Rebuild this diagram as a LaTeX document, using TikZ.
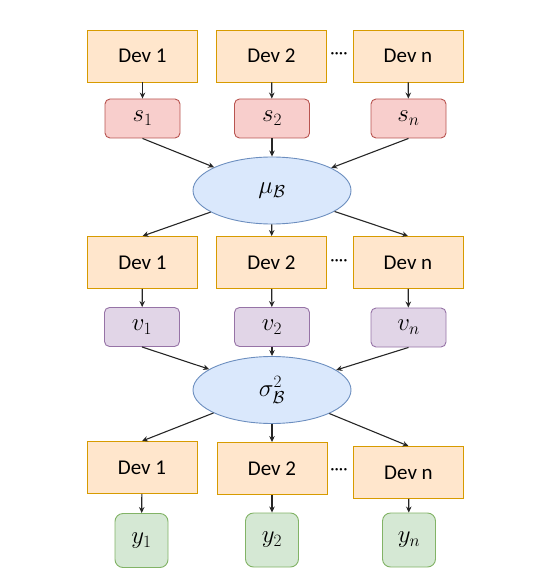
\documentclass[tikz,border=0pt]{standalone}
\usepackage{amsmath,amssymb}
\usepackage{fontspec}
\setmainfont{Carlito}
\usetikzlibrary{arrows.meta,positioning,shapes.geometric}
\definecolor{clDevFill}{HTML}{FFE6CC}
\definecolor{clDevLine}{HTML}{D79B00}
\definecolor{clSumFill}{HTML}{F8CECC}
\definecolor{clSumLine}{HTML}{B85450}
\definecolor{clVarFill}{HTML}{E1D5E7}
\definecolor{clVarLine}{HTML}{9673A6}
\definecolor{clOutFill}{HTML}{D5E8D4}
\definecolor{clOutLine}{HTML}{82B366}
\definecolor{clStatFill}{HTML}{DAE8FC}
\definecolor{clStatLine}{HTML}{6C8EBF}
\tikzset{
  box/.style={rectangle, draw, line width=0.9pt, align=center, inner sep=0pt,
              font=\fontsize{21}{25}\selectfont},
  dev/.style={box, draw=clDevLine, fill=clDevFill, minimum width=110pt, minimum height=52pt},
  part/.style={box, rounded corners=5pt, minimum width=75pt, minimum height=39pt,
               font=\fontsize{25}{29}\selectfont},
  sumbox/.style={part, draw=clSumLine, fill=clSumFill},
  varbox/.style={part, draw=clVarLine, fill=clVarFill},
  outbox/.style={part, draw=clOutLine, fill=clOutFill, rounded corners=8pt,
                 minimum width=53pt, minimum height=54pt},
  stat/.style={ellipse, draw=clStatLine, fill=clStatFill, line width=0.9pt,
               minimum width=158pt, minimum height=67pt, inner sep=0pt,
               font=\fontsize{25}{29}\selectfont},
  dots/.style={font=\fontsize{17}{20}\selectfont, inner sep=0pt},
  flow/.style={-{Stealth[length=6pt,width=5.5pt]}, line width=1.1pt, draw=black!85},
}

\begin{document}
\begin{tikzpicture}[x=1pt,y=-1pt]
  \useasboundingbox (0,0) rectangle (547,588);
  % first pass: mean
  \node[dev] (d11) at (142.5,56) {Dev 1};
  \node[dev] (d12) at (271.5,56) {Dev 2};
  \node[dev] (d1n) at (408,56) {Dev n};
  \node[dots] (dots1) at (339,56) {····};
  \node[sumbox] (s1) at (142.5,118.5) {$s_1$};
  \node[sumbox] (s2) at (272,118.5) {$s_2$};
  \node[sumbox] (sn) at (408.5,118.5) {$s_n$};
  \node[stat] (mu) at (272,190.5) {$\mu_{\mathcal{B}}$};
  \draw[flow] (d11)--(s1); \draw[flow] (d12)--(s2); \draw[flow] (d1n)--(sn);
  \draw[flow] (s1.south)--(mu); \draw[flow] (s2)--(mu); \draw[flow] (sn.south)--(mu);
  % second pass: variance
  \node[dev] (d21) at (142.5,262.5) {Dev 1};
  \node[dev] (d22) at (271.5,262.5) {Dev 2};
  \node[dev] (d2n) at (408,262.5) {Dev n};
  \node[dots] (dots2) at (339,263) {····};
  \draw[flow] (mu)--(d21.north); \draw[flow] (mu)--(d22); \draw[flow] (mu)--(d2n.north);
  \node[varbox] (v1) at (142,327) {$v_1$};
  \node[varbox] (v2) at (272,327) {$v_2$};
  \node[varbox] (vn) at (408.5,327.5) {$v_n$};
  \node[stat] (sigma) at (272,390) {$\sigma_{\mathcal{B}}^2$};
  \draw[flow] (d21)--(v1); \draw[flow] (d22)--(v2); \draw[flow] (d2n)--(vn);
  \draw[flow] (v1.south)--(sigma); \draw[flow] (v2)--(sigma); \draw[flow] (vn.south)--(sigma);
  % normalised outputs
  \node[dev] (d31) at (142,467.5) {Dev 1};
  \node[dev] (d32) at (272,468.5) {Dev 2};
  \node[dev] (d3n) at (408.5,472.5) {Dev n};
  \node[dots] (dots3) at (339,472) {····};
  \draw[flow] (sigma)--(d31.north); \draw[flow] (sigma)--(d32); \draw[flow] (sigma)--(d3n.north);
  \node[outbox] (y1) at (141.5,540.5) {$y_1$};
  \node[outbox] (y2) at (272,540) {$y_2$};
  \node[outbox] (yn) at (409,540) {$y_n$};
  \draw[flow] (d31)--(y1); \draw[flow] (d32)--(y2); \draw[flow] (d3n)--(yn);
\end{tikzpicture}
\end{document}
